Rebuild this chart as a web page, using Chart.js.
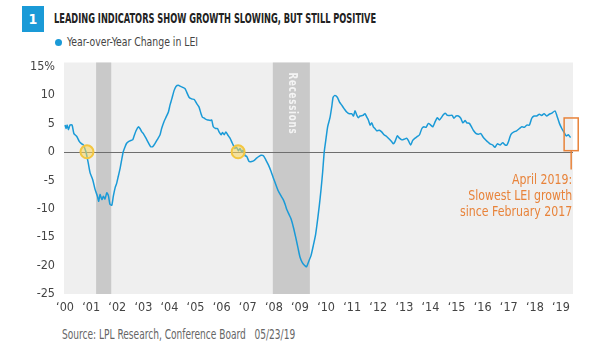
<!DOCTYPE html>
<html>
<head>
<meta charset="utf-8">
<script src="https://cdn.jsdelivr.net/npm/chart.js@4.4.0/dist/chart.umd.min.js"></script>
<style>
  body { margin: 0; width: 605px; height: 341px; background: #fff; position: relative; overflow: hidden;
         font-family: 'DejaVu Sans Condensed', 'Roboto', sans-serif; }
  .fit { position: absolute; white-space: nowrap; transform-origin: 0 50%; }
  #badge { position: absolute; left: 22px; top: 6px; width: 22px; height: 26px; background: #1a9ad7;
           color: #fff; font-weight: bold; font-size: 14px; line-height: 26px; text-align: center; }
  #title { left: 54px; top: 10px; font-weight: bold; font-size: 14px; color: #222; }
  #dot { position: absolute; left: 55px; top: 39px; width: 7px; height: 7px; border-radius: 50%; background: #1a9ad7; }
  #legend { left: 67px; top: 34px; font-size: 13px; color: #444; }
  #wrap { position: absolute; left: 0; top: 50px; width: 605px; height: 270px; }
  #source { left: 62px; top: 326px; font-size: 14px; color: #666; }
</style>
</head>
<body>
<div id="badge">1</div>
<div id="title" class="fit" data-w="322">LEADING INDICATORS SHOW GROWTH SLOWING, BUT STILL POSITIVE</div>
<div id="dot"></div>
<div id="legend" class="fit" data-w="131">Year-over-Year Change in LEI</div>
<div id="wrap"><canvas id="myChart"></canvas></div>
<div id="source" class="fit" data-w="233">Source: LPL Research, Conference Board&nbsp;&nbsp;&nbsp;05/23/19</div>
<script>
const FONT = "'DejaVu Sans Condensed', 'Roboto', sans-serif";

// squeeze header and footer text to the condensed widths of the original
document.querySelectorAll(".fit").forEach((el) => {
  const w = el.getBoundingClientRect().width;
  el.style.transform = "scaleX(" + (Number(el.dataset.w) / w).toFixed(3) + ")";
});

// time in decimal years
const leiTime = [
  2000.00, 2000.04, 2000.08, 2000.13, 2000.19, 2000.27, 2000.34, 2000.45, 2000.55, 2000.64,
  2000.70, 2000.80, 2000.89, 2000.96, 2001.06, 2001.15, 2001.24, 2001.29, 2001.34, 2001.41,
  2001.47, 2001.53, 2001.60, 2001.66, 2001.72, 2001.79, 2001.85, 2001.92, 2001.98, 2002.04,
  2002.11, 2002.17, 2002.23, 2002.30, 2002.36, 2002.43, 2002.52, 2002.59, 2002.64, 2002.72,
  2002.81, 2002.87, 2002.94, 2003.00, 2003.10, 2003.19, 2003.28, 2003.36, 2003.45, 2003.54,
  2003.64, 2003.70, 2003.79, 2003.87, 2003.96, 2004.02, 2004.09, 2004.18, 2004.25, 2004.34,
  2004.43, 2004.53, 2004.60, 2004.66, 2004.75, 2004.85, 2004.95, 2005.04, 2005.13, 2005.21,
  2005.26, 2005.34, 2005.40, 2005.47, 2005.56, 2005.62, 2005.68, 2005.77, 2005.84, 2005.90,
  2005.98, 2006.03, 2006.10, 2006.16, 2006.23, 2006.32, 2006.41, 2006.51, 2006.57, 2006.64,
  2006.70, 2006.77, 2006.83, 2006.90, 2006.96, 2007.05, 2007.15, 2007.25, 2007.34, 2007.43,
  2007.51, 2007.60, 2007.69, 2007.79, 2007.89, 2007.98, 2008.07, 2008.17, 2008.28, 2008.36,
  2008.43, 2008.49, 2008.58, 2008.66, 2008.75, 2008.84, 2008.92, 2009.00, 2009.09, 2009.18,
  2009.25, 2009.35, 2009.42, 2009.51, 2009.60, 2009.66, 2009.74, 2009.81, 2009.87, 2009.93,
  2010.00, 2010.06, 2010.15, 2010.22, 2010.27, 2010.34, 2010.43, 2010.51, 2010.60, 2010.69,
  2010.79, 2010.89, 2010.98, 2011.05, 2011.11, 2011.18, 2011.24, 2011.30, 2011.41, 2011.49,
  2011.56, 2011.62, 2011.69, 2011.75, 2011.81, 2011.87, 2011.94, 2012.04, 2012.13, 2012.22,
  2012.32, 2012.43, 2012.51, 2012.58, 2012.64, 2012.73, 2012.81, 2012.90, 2012.99, 2013.09,
  2013.15, 2013.24, 2013.32, 2013.41, 2013.50, 2013.58, 2013.67, 2013.75, 2013.83, 2013.92,
  2014.01, 2014.09, 2014.18, 2014.26, 2014.34, 2014.43, 2014.47, 2014.56, 2014.65, 2014.75,
  2014.83, 2014.90, 2014.98, 2015.07, 2015.16, 2015.24, 2015.33, 2015.39, 2015.49, 2015.58,
  2015.64, 2015.75, 2015.84, 2015.93, 2016.00, 2016.09, 2016.18, 2016.28, 2016.38, 2016.47,
  2016.56, 2016.67, 2016.77, 2016.86, 2016.93, 2016.99, 2017.05, 2017.11, 2017.20, 2017.30,
  2017.41, 2017.50, 2017.59, 2017.69, 2017.79, 2017.88, 2017.97, 2018.07, 2018.17, 2018.26,
  2018.35, 2018.45, 2018.55, 2018.65, 2018.77, 2018.84, 2018.94, 2019.03, 2019.12, 2019.20,
  2019.28, 2019.37
];

// year-over-year change in LEI, %
const leiChange = [
  4.7, 4.1, 4.7, 3.9, 4.7, 4.7, 3.2, 2.7, 1.8, 1.4,
  1.2, 0.0, -2.0, -3.7, -4.9, -6.6, -7.8, -8.7, -7.5, -8.4,
  -7.8, -8.3, -7.2, -7.7, -9.2, -9.4, -7.8, -6.3, -5.5, -4.3,
  -2.9, -1.4, 0.0, 0.9, 1.5, 1.8, 2.0, 2.1, 2.7, 3.7,
  4.4, 4.1, 3.5, 3.2, 2.4, 1.6, 0.9, 0.9, 1.5, 2.2,
  3.0, 4.1, 5.3, 6.1, 7.0, 8.2, 9.3, 10.8, 11.5, 11.7,
  11.5, 11.3, 11.1, 10.5, 9.6, 9.3, 9.2, 8.5, 7.9, 6.7,
  6.1, 5.9, 5.7, 5.6, 5.5, 5.6, 4.4, 4.1, 4.1, 3.5,
  3.0, 3.4, 3.0, 3.5, 3.0, 2.4, 1.5, 0.6, 0.8, 0.2,
  0.6, 0.0, 0.3, -0.7, -0.8, -1.7, -1.7, -1.5, -1.1, -0.8,
  -0.6, -0.7, -1.4, -2.3, -3.4, -4.6, -5.7, -6.9, -7.8, -8.4,
  -9.2, -10.1, -11.0, -11.8, -13.3, -15.1, -16.8, -18.5, -19.5, -20.0,
  -20.2, -19.1, -18.3, -16.5, -14.5, -12.5, -9.5, -6.5, -3.5, 0.0,
  2.4, 4.4, 6.0, 8.0, 9.6, 9.9, 9.6, 8.8, 8.2, 7.6,
  7.0, 6.7, 6.7, 6.3, 7.2, 6.4, 6.0, 6.3, 6.4, 6.7,
  6.1, 5.6, 4.7, 5.1, 4.4, 4.1, 3.7, 3.8, 3.5, 3.0,
  2.7, 2.2, 1.8, 1.4, 1.8, 2.8, 2.4, 2.1, 2.2, 2.4,
  2.0, 1.2, 2.0, 2.4, 2.7, 3.0, 4.1, 4.4, 4.3, 5.0,
  4.7, 4.4, 5.3, 6.0, 5.6, 6.1, 6.4, 6.8, 6.4, 6.4,
  6.4, 5.9, 6.3, 6.3, 5.9, 5.1, 5.5, 5.1, 5.0, 4.3,
  3.8, 3.2, 3.1, 3.2, 2.7, 2.2, 1.8, 1.4, 1.2, 0.8,
  1.4, 1.2, 1.6, 1.2, 1.2, 1.8, 2.7, 3.2, 3.5, 3.7,
  4.1, 4.4, 4.3, 4.7, 4.7, 5.9, 6.3, 6.3, 6.6, 6.4,
  6.7, 6.3, 6.6, 6.8, 7.2, 6.4, 5.0, 4.1, 3.4, 2.8,
  3.0, 2.5
];

const yearTicks = [2000, 2001, 2002, 2003, 2004, 2005, 2006, 2007, 2008, 2009,
                   2010, 2011, 2012, 2013, 2014, 2015, 2016, 2017, 2018, 2019];
const yTicks = [15, 10, 5, 0, -5, -10, -15, -20, -25];

const recessionStart = [2001.19, 2007.96];
const recessionEnd = [2001.77, 2009.38];

// yellow circles where the line crosses zero
const crossTime = [2000.84, 2006.63];

const noteLines = ["April 2019:", "Slowest LEI growth", "since February 2017"];

const ORANGE = "#e8833a";

// draw text squeezed horizontally, like the condensed face of the original
function squeezed(ctx, text, x, y, sx, align) {
  ctx.save();
  ctx.translate(x, y);
  ctx.scale(sx, 1);
  ctx.textAlign = align;
  ctx.fillText(text, 0, 0);
  ctx.restore();
}

const decorPlugin = {
  id: "decor",
  beforeDatasetsDraw(chart) {
    const { ctx, chartArea: a, scales: { x, y } } = chart;
    ctx.save();
    ctx.fillStyle = "#efefef";
    ctx.fillRect(a.left, a.top - 4, a.right - a.left, a.bottom - a.top + 4);
    ctx.fillStyle = "#c9c9c9";
    recessionStart.forEach((s, i) => {
      const x0 = x.getPixelForValue(s);
      const x1 = x.getPixelForValue(recessionEnd[i]);
      ctx.fillRect(x0, a.top - 4, x1 - x0, a.bottom - a.top + 4);
    });
    // "Recessions" label in the 2008 bar, reading downwards
    const cx = (x.getPixelForValue(recessionStart[1]) + x.getPixelForValue(recessionEnd[1])) / 2;
    ctx.translate(cx + 1, a.top + 6);
    ctx.rotate(Math.PI / 2);
    ctx.fillStyle = "#f4f4f4";
    ctx.font = "bold 13px " + FONT;
    ctx.letterSpacing = "1px";
    ctx.textBaseline = "middle";
    const tw = ctx.measureText("Recessions").width;
    squeezed(ctx, "Recessions", 0, 0, 62 / tw, "left");
    ctx.restore();

    // zero line
    ctx.save();
    ctx.strokeStyle = "#6e6e6e";
    ctx.lineWidth = 1;
    const y0 = Math.round(y.getPixelForValue(0)) + 0.5;
    ctx.beginPath();
    ctx.moveTo(a.left, y0);
    ctx.lineTo(a.right, y0);
    ctx.stroke();
    ctx.restore();
  },
  afterDatasetsDraw(chart) {
    const { ctx, scales: { x, y } } = chart;
    ctx.save();
    crossTime.forEach((t) => {
      ctx.beginPath();
      ctx.arc(x.getPixelForValue(t), y.getPixelForValue(0), 6.5, 0, Math.PI * 2);
      ctx.fillStyle = "rgba(250, 214, 90, 0.55)";
      ctx.fill();
      ctx.lineWidth = 2;
      ctx.strokeStyle = "#f3c640";
      ctx.stroke();
    });

    // April 2019 box and note
    const bx0 = x.getPixelForValue(2019.12);
    const bx1 = x.getPixelForValue(2019.66);
    const by0 = y.getPixelForValue(5.95);
    const by1 = y.getPixelForValue(0.2);
    ctx.strokeStyle = ORANGE;
    ctx.lineWidth = 1.5;
    ctx.strokeRect(bx0, by0, bx1 - bx0, by1 - by0);
    const lx = x.getPixelForValue(2019.39);
    ctx.beginPath();
    ctx.moveTo(lx, by1);
    ctx.lineTo(lx, y.getPixelForValue(-3.1));
    ctx.stroke();

    ctx.fillStyle = ORANGE;
    ctx.font = "14px " + FONT;
    ctx.textBaseline = "middle";
    const sx = 104 / ctx.measureText(noteLines[1]).width;
    noteLines.forEach((s, i) => {
      squeezed(ctx, s, lx + 1, y.getPixelForValue(-5.0) + i * 16, sx, "right");
    });
    ctx.restore();
  },
};

const ctx = document.getElementById("myChart");

new Chart(ctx, {
  type: "line",
  data: {
    datasets: [
      {
        label: "Year-over-Year Change in LEI",
        data: leiTime.map((t, i) => ({ x: t, y: leiChange[i] })),
        borderColor: "#1a9ad7",
        borderWidth: 1.5,
        pointRadius: 0,
        tension: 0.2,
        fill: false,
      },
    ],
  },
  options: {
    responsive: true,
    maintainAspectRatio: false,
    animation: false,
    layout: { padding: { top: 14, right: 32, left: 0, bottom: 0 } },
    plugins: { legend: { display: false }, tooltip: { enabled: false } },
    scales: {
      x: {
        type: "linear",
        min: 1999.96,
        max: 2019.46,
        grid: { display: false, drawTicks: false },
        border: { display: false },
        afterBuildTicks: (scale) => {
          scale.ticks = yearTicks.map((v) => ({ value: v }));
        },
        afterFit: (scale) => { scale.height = 26; },
        ticks: {
          autoSkip: false,
          maxRotation: 0,
          padding: 6,
          color: "#444",
          font: { family: FONT, size: 12.5 },
          callback: (v) => "\u2018" + String(v).slice(2),
        },
      },
      y: {
        min: -25,
        max: 15,
        grid: { display: false, drawTicks: false },
        border: { display: false },
        afterBuildTicks: (scale) => {
          scale.ticks = yTicks.map((v) => ({ value: v }));
        },
        afterFit: (scale) => { scale.width = 64; },
        ticks: {
          padding: 9,
          color: "#444",
          font: { family: FONT, size: 12.5 },
          callback: (v) => (v === 15 ? "15%" : String(v)),
        },
      },
    },
  },
  plugins: [decorPlugin],
});
</script>
</body>
</html>
